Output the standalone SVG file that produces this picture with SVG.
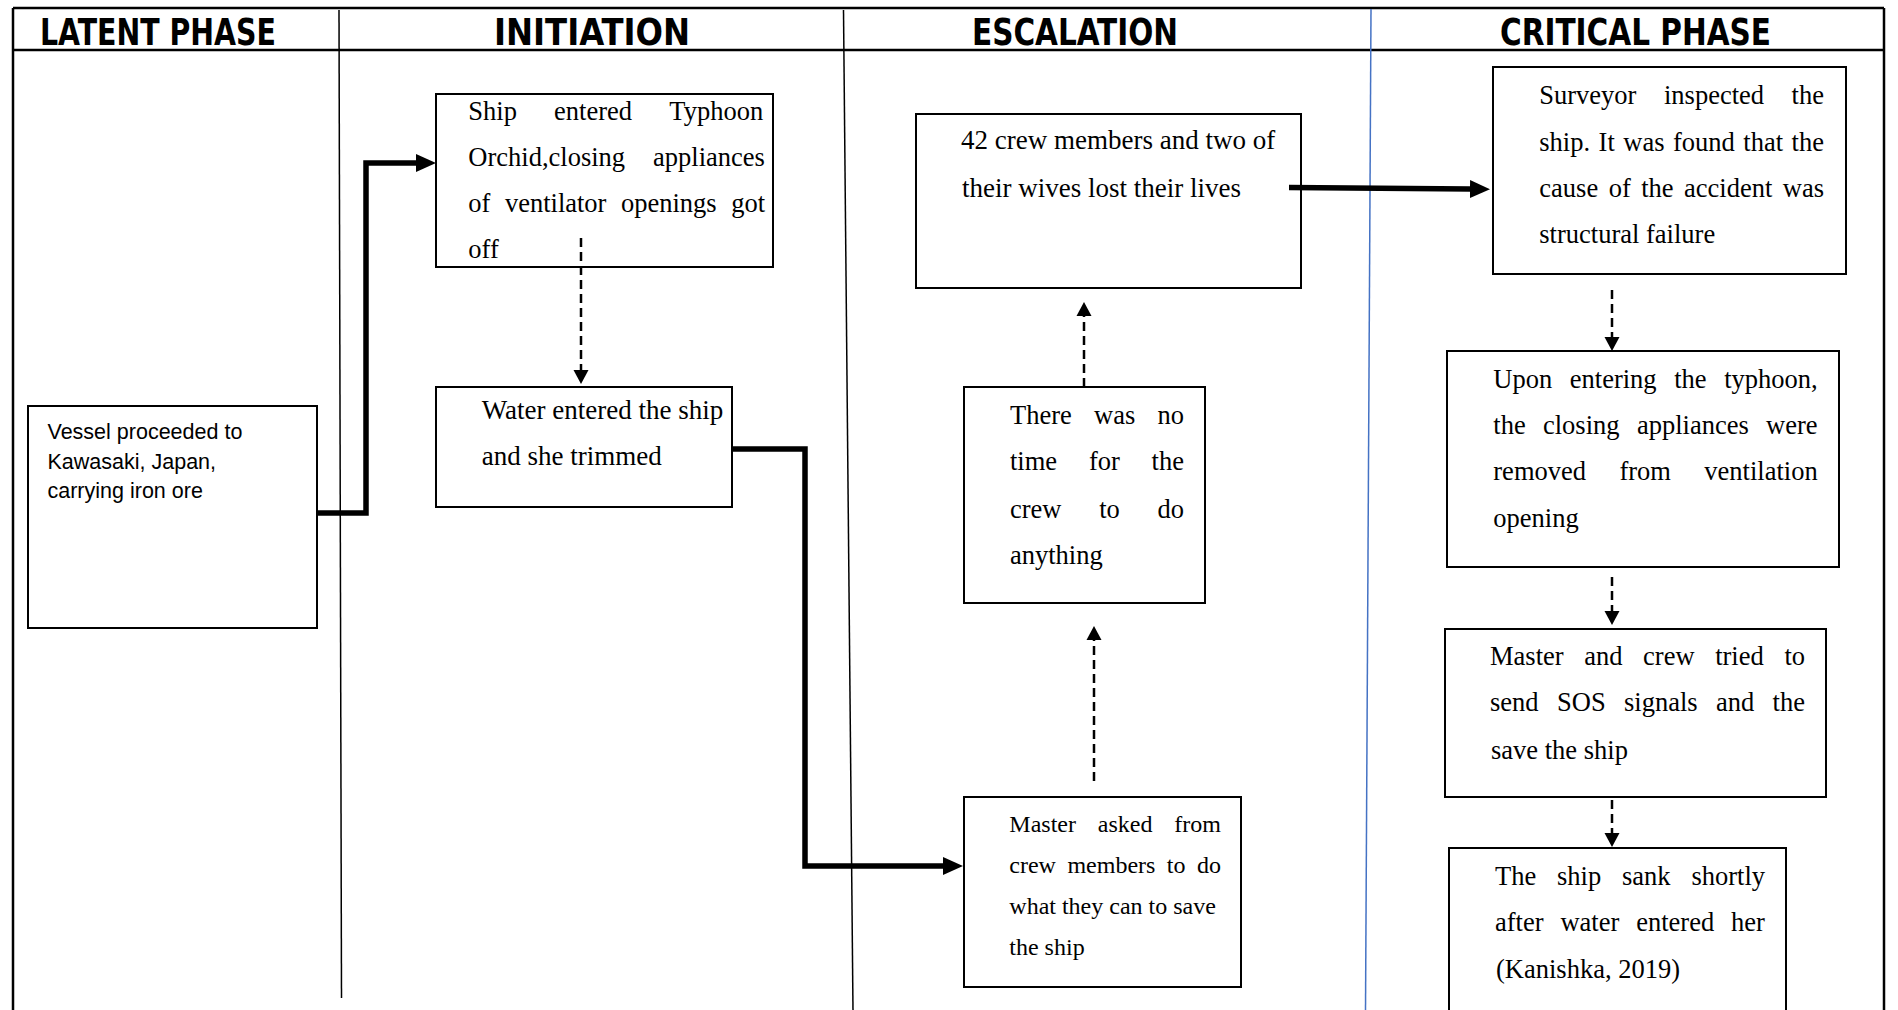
<svg xmlns="http://www.w3.org/2000/svg" width="1898" height="1010" viewBox="0 0 1898 1010">
<style>
.frame{stroke:#000;stroke-width:2.5;fill:none}
.div{stroke:#000;stroke-width:1.5;fill:none}
.blue{stroke:#4472C4;stroke-width:1.5;fill:none}
.box{fill:#fff;stroke:#000;stroke-width:2}
.hd{font-family:"DejaVu Sans Condensed","DejaVu Sans",sans-serif;font-weight:bold;font-size:37px;fill:#000}
.tr{font-family:"Liberation Serif","Times New Roman",serif;font-size:27px;fill:#000}
.tj{font-family:"Liberation Serif","Times New Roman",serif;font-size:26.5px;fill:#000}
.tr24{font-family:"Liberation Serif","Times New Roman",serif;font-size:24px;fill:#000}
.sn{font-family:"Liberation Sans",Arial,sans-serif;font-size:21.5px;fill:#000}
.thick{stroke:#000;stroke-width:5.5;fill:none;stroke-linejoin:miter}
.dash{stroke:#000;stroke-width:2.5;fill:none;stroke-dasharray:9 5}
</style>
<defs>
<marker id="big" markerUnits="userSpaceOnUse" markerWidth="20" markerHeight="20" viewBox="0 0 20 20" refX="0" refY="10" orient="auto"><path d="M0,1 L20,10 L0,19 z" fill="#000"/></marker>
<marker id="small" markerUnits="userSpaceOnUse" markerWidth="14" markerHeight="16" viewBox="0 0 14 16" refX="0" refY="8" orient="auto"><path d="M0,0.5 L14,8 L0,15.5 z" fill="#000"/></marker>
</defs>
<rect width="1898" height="1010" fill="#fff"/>
<g id="lanes">
<line class="frame" x1="13" y1="8" x2="1884" y2="8"/>
<line class="frame" x1="13" y1="50" x2="1884" y2="50"/>
<line class="frame" x1="13" y1="8" x2="13" y2="1010"/>
<line class="frame" x1="1884" y1="8" x2="1884" y2="1010"/>
<line class="div" x1="339" y1="10" x2="341.5" y2="998"/>
<line class="div" x1="843.5" y1="10" x2="853" y2="1010"/>
<line class="blue" x1="1371" y1="9" x2="1365.5" y2="1010"/>
<text class="hd" x="40" y="45" textLength="236" lengthAdjust="spacingAndGlyphs">LATENT PHASE</text>
<text class="hd" x="494" y="45" textLength="196" lengthAdjust="spacingAndGlyphs">INITIATION</text>
<text class="hd" x="972" y="45" textLength="206" lengthAdjust="spacingAndGlyphs">ESCALATION</text>
<text class="hd" x="1500" y="45" textLength="271" lengthAdjust="spacingAndGlyphs">CRITICAL PHASE</text>
</g>
<g id="n-vessel">
<rect class="box" x="28" y="406" width="289" height="222"/>
<text class="sn"><tspan x="47.5" y="439">Vessel proceeded to</tspan><tspan x="47.5" y="469">Kawasaki, Japan,</tspan><tspan x="47.5" y="497.5">carrying iron ore</tspan></text>
</g>
<g id="n-ship-entered">
<rect class="box" x="436" y="94" width="337" height="173"/>
<text class="tj"><tspan x="468.3" y="119.5">Ship</tspan><tspan x="554.1" y="119.5">entered</tspan><tspan x="669.3" y="119.5">Typhoon</tspan><tspan x="468.3" y="165.5">Orchid,closing</tspan><tspan x="653.1" y="165.5">appliances</tspan><tspan x="468.3" y="211.5">of</tspan><tspan x="504.9" y="211.5">ventilator</tspan><tspan x="621" y="211.5">openings</tspan><tspan x="731.2" y="211.5">got</tspan><tspan x="468.3" y="257.5">off</tspan></text>
</g>
<g id="n-water">
<rect class="box" x="436" y="387" width="296" height="120"/>
<text class="tr"><tspan x="481.7" y="419">Water entered the ship</tspan><tspan x="481.7" y="465">and she trimmed</tspan></text>
</g>
<g id="n-crew-lost">
<rect class="box" x="916" y="114" width="385" height="174"/>
<text class="tr"><tspan x="961" y="149">42 crew members and two of</tspan><tspan x="962" y="197">their wives lost their lives</tspan></text>
</g>
<g id="n-no-time">
<rect class="box" x="964" y="387" width="241" height="216"/>
<text class="tj"><tspan x="1010" y="424">There</tspan><tspan x="1094" y="424">was</tspan><tspan x="1157.5" y="424">no</tspan><tspan x="1010" y="470">time</tspan><tspan x="1088.9" y="470">for</tspan><tspan x="1151.6" y="470">the</tspan><tspan x="1010" y="517.5">crew</tspan><tspan x="1099.2" y="517.5">to</tspan><tspan x="1157.5" y="517.5">do</tspan><tspan x="1010" y="563.5">anything</tspan></text>
</g>
<g id="n-master-asked">
<rect class="box" x="964" y="797" width="277" height="190"/>
<text class="tr24"><tspan x="1009.3" y="832">Master</tspan><tspan x="1097.8" y="832">asked</tspan><tspan x="1174.3" y="832">from</tspan><tspan x="1009.3" y="873">crew</tspan><tspan x="1067.4" y="873">members</tspan><tspan x="1166.8" y="873">to</tspan><tspan x="1197" y="873">do</tspan><tspan x="1009.3" y="914">what they can to save</tspan><tspan x="1009.3" y="955">the ship</tspan></text>
</g>
<g id="n-surveyor">
<rect class="box" x="1493" y="67" width="353" height="207"/>
<text class="tj"><tspan x="1539.3" y="104">Surveyor</tspan><tspan x="1664" y="104">inspected</tspan><tspan x="1791.6" y="104">the</tspan><tspan x="1539.3" y="150.7">ship.</tspan><tspan x="1598.6" y="150.7">It</tspan><tspan x="1623.3" y="150.7">was</tspan><tspan x="1673" y="150.7">found</tspan><tspan x="1743.3" y="150.7">that</tspan><tspan x="1791.6" y="150.7">the</tspan><tspan x="1539.3" y="196.7">cause</tspan><tspan x="1608.7" y="196.7">of</tspan><tspan x="1641.2" y="196.7">the</tspan><tspan x="1684" y="196.7">accident</tspan><tspan x="1782.8" y="196.7">was</tspan><tspan x="1539.3" y="242.7">structural failure</tspan></text>
</g>
<g id="n-upon">
<rect class="box" x="1447" y="351" width="392" height="216"/>
<text class="tj"><tspan x="1493.3" y="387.7">Upon</tspan><tspan x="1569.8" y="387.7">entering</tspan><tspan x="1674.2" y="387.7">the</tspan><tspan x="1724.2" y="387.7">typhoon,</tspan><tspan x="1493.3" y="434.4">the</tspan><tspan x="1543" y="434.4">closing</tspan><tspan x="1636.9" y="434.4">appliances</tspan><tspan x="1766.1" y="434.4">were</tspan><tspan x="1493.3" y="480.4">removed</tspan><tspan x="1619.4" y="480.4">from</tspan><tspan x="1704.3" y="480.4">ventilation</tspan><tspan x="1493.3" y="526.9">opening</tspan></text>
</g>
<g id="n-sos">
<rect class="box" x="1445" y="629" width="381" height="168"/>
<text class="tj"><tspan x="1490" y="665">Master</tspan><tspan x="1584.2" y="665">and</tspan><tspan x="1643.1" y="665">crew</tspan><tspan x="1715.2" y="665">tried</tspan><tspan x="1784.4" y="665">to</tspan><tspan x="1490" y="711">send</tspan><tspan x="1557" y="711">SOS</tspan><tspan x="1624" y="711">signals</tspan><tspan x="1716" y="711">and</tspan><tspan x="1772.6" y="711">the</tspan><tspan x="1491" y="758.7">save the ship</tspan></text>
</g>
<g id="n-sank">
<rect class="box" x="1449" y="848" width="337" height="175"/>
<text class="tj"><tspan x="1495" y="884.5">The</tspan><tspan x="1557" y="884.5">ship</tspan><tspan x="1622" y="884.5">sank</tspan><tspan x="1691.4" y="884.5">shortly</tspan><tspan x="1495" y="930.5">after</tspan><tspan x="1560.4" y="930.5">water</tspan><tspan x="1636.2" y="930.5">entered</tspan><tspan x="1731.1" y="930.5">her</tspan><tspan x="1496" y="978">(Kanishka, 2019)</tspan></text>
</g>
<g id="connectors">
<path class="thick" d="M316,513 H366 V163 H416" marker-end="url(#big)"/>
<path class="thick" d="M732,449 H805 V866 H943" marker-end="url(#big)"/>
<path class="thick" d="M1289,187.5 L1470,189" marker-end="url(#big)"/>
<path class="dash" d="M581,238 V370" marker-end="url(#small)"/>
<path class="dash" d="M1084,387 V316" marker-end="url(#small)"/>
<path class="dash" d="M1094,781 V640" marker-end="url(#small)"/>
<path class="dash" d="M1612,290 V337" marker-end="url(#small)"/>
<path class="dash" d="M1612,577 V611" marker-end="url(#small)"/>
<path class="dash" d="M1612,800 V833" marker-end="url(#small)"/>
</g>
</svg>
